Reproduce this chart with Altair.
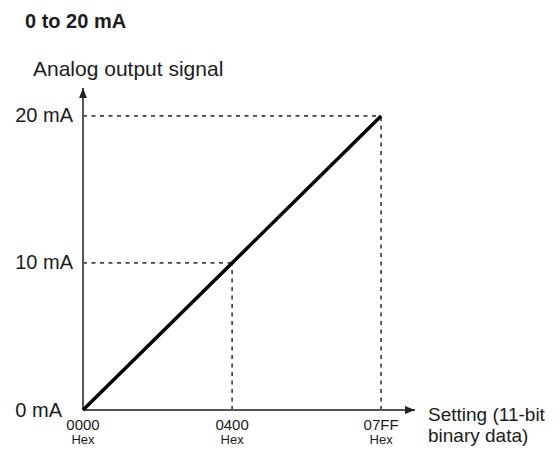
import altair as alt
import pandas as pd

# ---- data ----
x_setting = [0, 1024, 2047]          # 11-bit setting values (0000, 0400, 07FF hex)
x_tick_labels = ["0000", "0400", "07FF"]
x_tick_unit = "Hex"
y_current = [0, 10, 20]              # analog output, mA
y_tick_labels = ["0 mA", "10 mA", "20 mA"]
x_axis_end = 2280                    # where the x-axis arrow ends (data units)
y_axis_end = 21.9                    # where the y-axis arrow ends (data units)
range_title = "0 to 20 mA"
y_title = "Analog output signal"
x_title = ["Setting (11-bit", "binary data)"]

FONT = "Liberation Sans"
INK = "#1c1c1c"

df = pd.DataFrame({
    "setting": x_setting,
    "current": y_current,
    "hex": x_tick_labels,
    "ylabel": y_tick_labels,
})
ax = pd.DataFrame({"x0": [0], "x1": [x_axis_end], "y0": [0], "y1": [y_axis_end]})

xs = alt.Scale(domain=[0, x_axis_end], range=[75, 407], nice=False, zero=False)
ys = alt.Scale(domain=[0, y_axis_end], range=[402, 80], nice=False, zero=False)

base = alt.Chart(df).transform_calculate(zero="0")
X = alt.X("setting:Q", scale=xs, axis=None)
Y = alt.Y("current:Q", scale=ys, axis=None)
X0 = alt.X("zero:Q", scale=xs, axis=None)
Y0 = alt.Y("zero:Q", scale=ys, axis=None)

# dashed guide lines
guide_h = base.transform_filter("datum.setting > 0").mark_rule(
    strokeDash=[4, 4.5], color="#444", strokeWidth=1.7
).encode(x=X0, x2=alt.X2("setting:Q"), y=Y)
guide_v = base.transform_filter("datum.setting > 0").mark_rule(
    strokeDash=[4, 4.5], color="#444", strokeWidth=1.7
).encode(x=X, y=Y0, y2=alt.Y2("current:Q"))

# axes with arrows
axb = alt.Chart(ax)
AX0 = alt.X("x0:Q", scale=xs, axis=None)
AX1 = alt.X("x1:Q", scale=xs, axis=None)
AY0 = alt.Y("y0:Q", scale=ys, axis=None)
AY1 = alt.Y("y1:Q", scale=ys, axis=None)

x_axis = axb.mark_rule(color="#555", strokeWidth=2).encode(x=AX0, x2=alt.X2("x1:Q"), y=AY0)
y_axis = axb.mark_rule(color="#555", strokeWidth=2).encode(x=AX0, y=AY0, y2=alt.Y2("y1:Q"))
x_arrow = axb.mark_point(
    shape="M-1,-0.4L0,0L-1,0.4Z", size=400, filled=True, color="#222", strokeWidth=0, opacity=1
).encode(x=AX1, y=AY0)
y_arrow = axb.mark_point(
    shape="M-0.4,1L0,0L0.4,1Z", size=400, filled=True, color="#222", strokeWidth=0, opacity=1
).encode(x=AX0, y=AY1)

# the characteristic line
line = base.mark_line(color="black", strokeWidth=3.5).encode(x=X, y=Y)

# tick labels
y_lab = base.transform_filter("datum.current > 0").mark_text(
    align="right", baseline="middle", dx=-10, fontSize=20, font=FONT, color=INK
).encode(x=X0, y=Y, text="ylabel:N")
y_lab0 = base.transform_filter("datum.current == 0").mark_text(
    align="right", baseline="middle", dx=-21, dy=1, fontSize=20, font=FONT, color=INK
).encode(x=X0, y=Y, text="ylabel:N")
x_lab = base.mark_text(
    align="center", baseline="alphabetic", dy=20, fontSize=15, font=FONT, color=INK
).encode(x=X, y=Y0, text="hex:N")
x_unit = base.mark_text(
    align="center", baseline="alphabetic", dy=34, fontSize=13, font=FONT, color=INK
).encode(x=X, y=Y0, text=alt.value(x_tick_unit))

# titles
t_range = axb.mark_text(
    align="left", baseline="middle", dx=-58, dy=-66, fontSize=20, fontWeight="bold",
    font=FONT, color=INK
).encode(x=AX0, y=AY1, text=alt.value(range_title))
t_y = axb.mark_text(
    align="left", baseline="middle", dx=-50, dy=-18, fontSize=21, font=FONT, color=INK
).encode(x=AX0, y=AY1, text=alt.value(y_title))
t_x = axb.mark_text(
    align="left", baseline="alphabetic", dx=13, dy=11, fontSize=19, lineHeight=21,
    font=FONT, color=INK
).encode(x=AX1, y=AY0, text=alt.value(x_title))

chart = alt.layer(
    guide_h, guide_v, x_axis, y_axis, x_arrow, y_arrow, line,
    y_lab, y_lab0, x_lab, x_unit, t_range, t_y, t_x
).properties(
    width=544, height=438, padding=0, autosize="none", background="white"
).configure_view(stroke=None)

chart.save("out.html", embed_options={"renderer": "svg", "actions": False})
